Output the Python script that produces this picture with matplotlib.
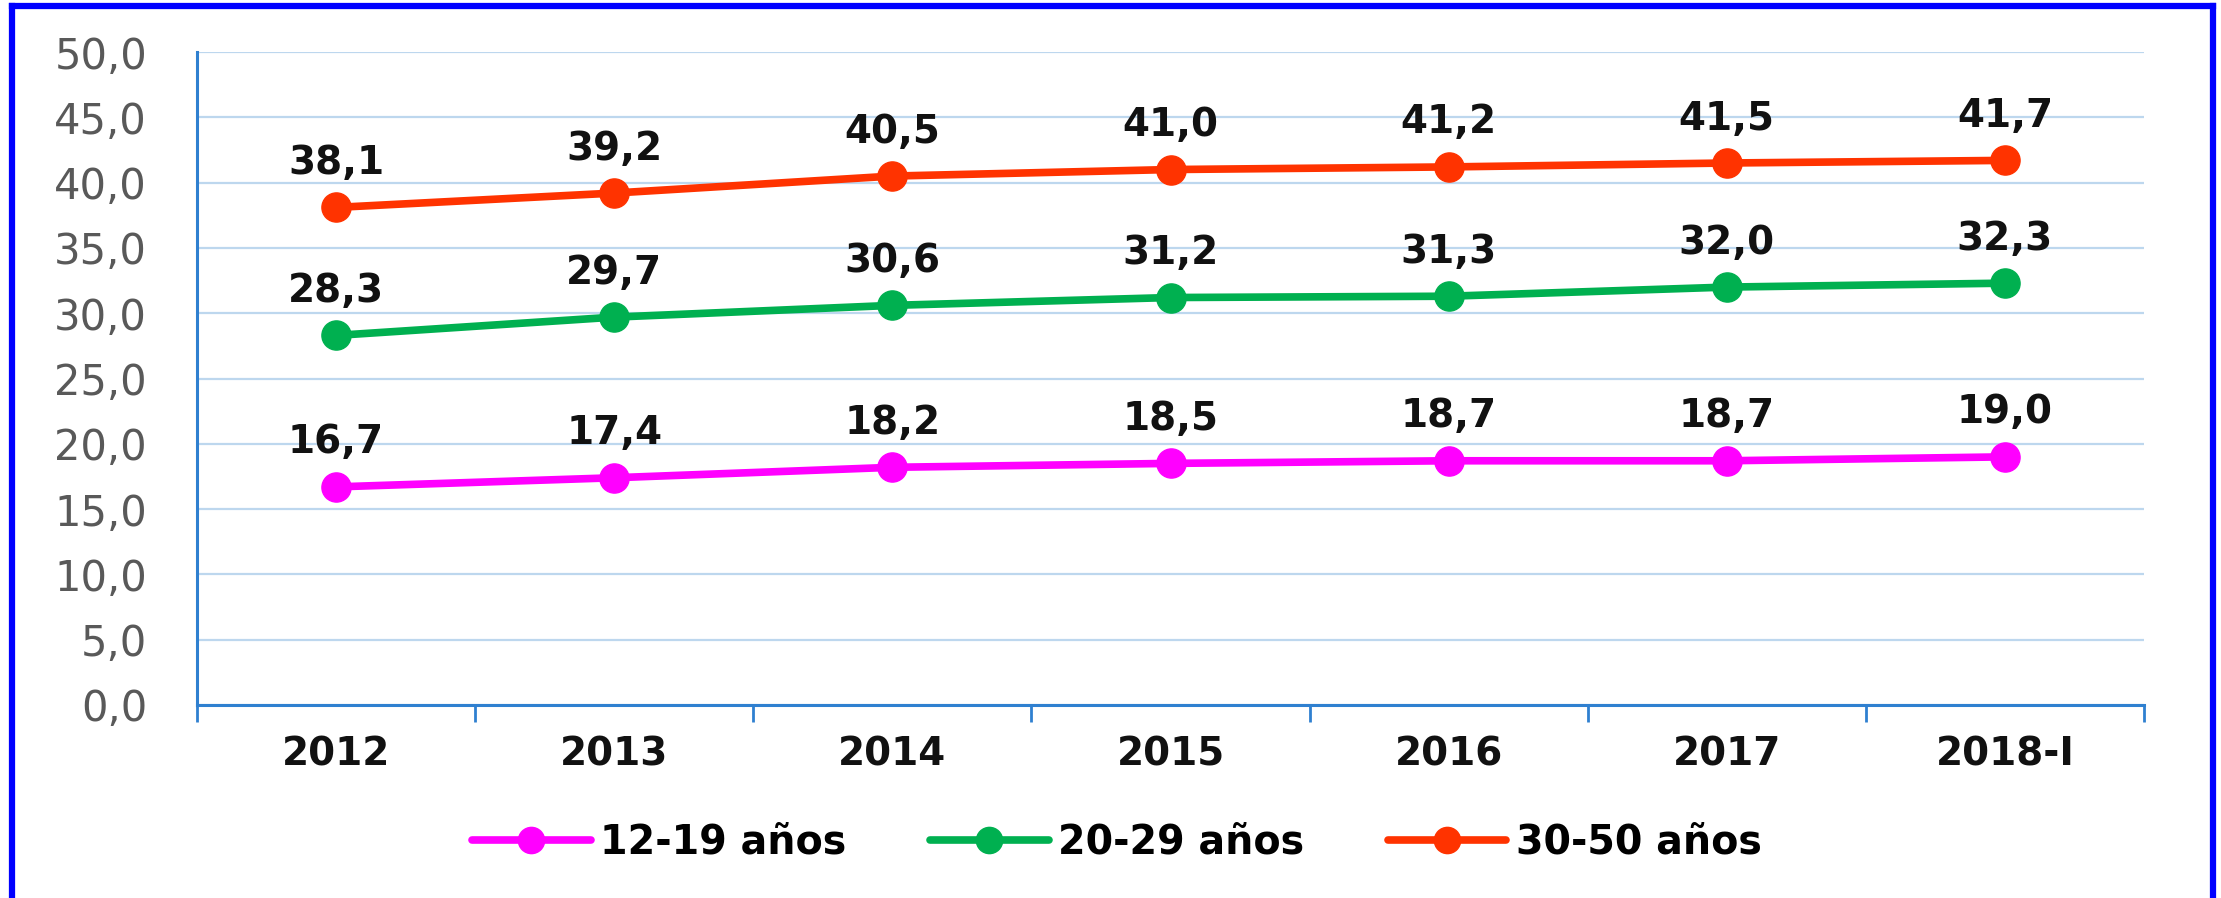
import numpy as np
import matplotlib.pyplot as plt
from matplotlib.lines import Line2D

# datos
anios = ['2012', '2013', '2014', '2015', '2016', '2017', '2018-I']
edad_12_19 = [16.7, 17.4, 18.2, 18.5, 18.7, 18.7, 19.0]
edad_20_29 = [28.3, 29.7, 30.6, 31.2, 31.3, 32.0, 32.3]
edad_30_50 = [38.1, 39.2, 40.5, 41.0, 41.2, 41.5, 41.7]
etiquetas = ['12-19 años', '20-29 años', '30-50 años']
colores = ['#FF00FF', '#00B050', '#FF3300']

fig = plt.figure(figsize=(22.21, 8.98), dpi=100)
ax = fig.add_axes([197/2221, 1 - 705/898, (2144 - 197)/2221, (705 - 52)/898])

x = np.arange(len(anios))
for serie, etiqueta, color in zip([edad_12_19, edad_20_29, edad_30_50], etiquetas, colores):
    ax.plot(x, serie, color=color, lw=5.5, marker='o', ms=21, label=etiqueta,
            solid_capstyle='round')
    for xi, v in zip(x, serie):
        ax.annotate(f'{v:.1f}'.replace('.', ','), (xi, v), xytext=(0, 32),
                    textcoords='offset points', ha='center', va='center',
                    fontsize=28, fontweight='bold', color='#111111')

ax.set_xlim(-0.5, len(anios) - 0.5)
ax.set_ylim(0, 50)
ax.set_yticks(np.arange(0, 51, 5))
ax.set_yticklabels([f'{v:.1f}'.replace('.', ',') for v in np.arange(0, 51, 5)])
ax.set_xticks(x)
ax.set_xticklabels(anios, fontsize=28, fontweight='bold', color='#111111')
ax.set_xticks(np.arange(-0.5, len(anios)), minor=True)

azul = '#2F80D0'
ax.tick_params(axis='x', which='major', length=0, pad=22)
ax.tick_params(axis='x', which='minor', length=12, width=2, color=azul, direction='out')
ax.tick_params(axis='y', length=0, pad=36, labelsize=30, labelcolor='#595959')

ax.grid(axis='y', color='#BDD7EE', lw=1.6)
ax.set_axisbelow(True)
for s in ['top', 'right']:
    ax.spines[s].set_visible(False)
for s in ['left', 'bottom']:
    ax.spines[s].set_color(azul)
    ax.spines[s].set_linewidth(2.2)

leg = fig.legend(loc='center', bbox_to_anchor=(1117/2221, 1 - 843/898), ncol=3,
                 frameon=False, handlelength=3.0, handletextpad=0.25,
                 columnspacing=2.1, markerscale=0.9,
                 prop={'family': 'DejaVu Sans', 'weight': 'bold', 'size': 28.5})

# marco azul
fig.add_artist(Line2D([11.5/2221, 11.5/2221], [-0.01, 1 - 6/898], color='#0000FF', lw=4.5))
fig.add_artist(Line2D([2213/2221, 2213/2221], [-0.01, 1 - 6/898], color='#0000FF', lw=4.5))
fig.add_artist(Line2D([11.5/2221, 2213/2221], [1 - 6/898, 1 - 6/898], color='#0000FF', lw=4.5,
                      solid_capstyle='projecting'))

fig.savefig('out.png', dpi=100)
